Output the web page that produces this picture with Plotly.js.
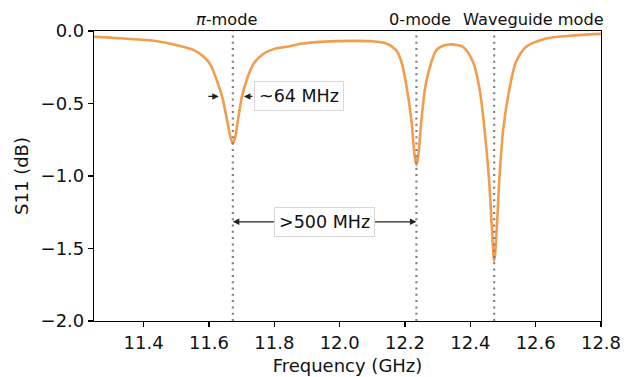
<!DOCTYPE html>
<html>
<head>
<meta charset="utf-8">
<script src="https://cdn.plot.ly/plotly-3.0.1.min.js"></script>
<style>html,body{margin:0;padding:0;background:#fff;}#chart{width:624px;height:377px;}</style>
</head>
<body>
<div id="chart"></div>
<script>
var freqGHz = [11.248, 11.300, 11.340, 11.431, 11.502, 11.554, 11.584, 11.605, 11.625, 11.640, 11.656, 11.666, 11.673,
  11.680, 11.688, 11.701, 11.717, 11.737, 11.768, 11.798, 11.837, 11.887, 11.990, 12.040, 12.092, 12.143, 12.173,
  12.189, 12.204, 12.220, 12.229, 12.235, 12.241, 12.250, 12.263, 12.281, 12.296, 12.315, 12.336, 12.355, 12.377,
  12.408, 12.428, 12.443, 12.457, 12.466, 12.473, 12.481, 12.489, 12.501, 12.520, 12.540, 12.571, 12.632, 12.703, 12.800];
var s11dB = [-0.040, -0.046, -0.052, -0.067, -0.098, -0.132, -0.178, -0.235, -0.348, -0.451, -0.623, -0.735, -0.775,
  -0.735, -0.623, -0.451, -0.327, -0.224, -0.155, -0.125, -0.109, -0.086, -0.070, -0.068, -0.070, -0.086, -0.132,
  -0.212, -0.373, -0.623, -0.850, -0.925, -0.850, -0.623, -0.373, -0.212, -0.132, -0.103, -0.093, -0.095, -0.109,
  -0.212, -0.396, -0.671, -1.015, -1.360, -1.585, -1.360, -1.015, -0.671, -0.396, -0.212, -0.109, -0.052, -0.033, -0.020];

// Mode markers
var modeNames = ['<i>π</i>-mode', '0-mode', 'Waveguide mode'];
var modeFreqs = [11.673, 12.235, 12.473];
var modeLabelX = [11.654, 12.245, 12.593];

// Annotation values
var fwhmLabel = '~64 MHz';
var fwhmEdges = [11.630, 11.707];
var fwhmLevel = -0.451;
var fwhmLabelX = 11.875;
var sepLabel = '&gt;500 MHz';
var sepLevel = -1.316;

var font = 'DejaVu Sans, Verdana, sans-serif';
var orange = '#f39c4c';

var shapes = modeFreqs.map(function (f) {
  return {type: 'line', xref: 'x', yref: 'paper', x0: f, x1: f, y0: 0, y1: 1, layer: 'above',
    line: {color: '#808080', width: 2.2, dash: '2px,4.3px'}};
});

var annotations = [];
modeNames.forEach(function (n, i) {
  annotations.push({text: n, xref: 'x', yref: 'paper', x: modeLabelX[i], y: 1, yanchor: 'bottom', xanchor: 'center',
    yshift: 0, showarrow: false, font: {family: font, size: 16.2, color: '#111'}});
});
// FWHM arrows
annotations.push({text: '', x: fwhmEdges[0], y: fwhmLevel, ax: -12, ay: 0, showarrow: true,
  arrowhead: 2, arrowsize: 1, arrowwidth: 1.3, arrowcolor: '#222'});
annotations.push({text: '', x: fwhmEdges[1], y: fwhmLevel, ax: 10, ay: 0, showarrow: true,
  arrowhead: 2, arrowsize: 1, arrowwidth: 1.3, arrowcolor: '#222'});
annotations.push({text: fwhmLabel, x: fwhmLabelX, y: fwhmLevel, showarrow: false, xanchor: 'center',
  font: {family: font, size: 17.5, color: '#111'}, bgcolor: '#fff', bordercolor: '#d8d8d8', borderwidth: 1, borderpad: 4});
// Separation arrows
var sepMid = (modeFreqs[0] + modeFreqs[1]) / 2;
annotations.push({text: '', x: modeFreqs[0], y: sepLevel, axref: 'x', ayref: 'y', ax: sepMid, ay: sepLevel,
  showarrow: true, arrowhead: 2, arrowsize: 1, arrowwidth: 1.3, arrowcolor: '#222', standoff: 0});
annotations.push({text: '', x: modeFreqs[1], y: sepLevel, axref: 'x', ayref: 'y', ax: sepMid, ay: sepLevel,
  showarrow: true, arrowhead: 2, arrowsize: 1, arrowwidth: 1.3, arrowcolor: '#222', standoff: 0});
annotations.push({text: sepLabel, x: sepMid, y: sepLevel, showarrow: false, xanchor: 'center',
  font: {family: font, size: 17.5, color: '#111'}, bgcolor: '#fff', bordercolor: '#d8d8d8', borderwidth: 1, borderpad: 4});

var trace = {x: freqGHz, y: s11dB, type: 'scatter', mode: 'lines',
  line: {color: orange, width: 2.6, shape: 'spline', smoothing: 0.9}, hoverinfo: 'skip'};

var axisCommon = {showgrid: false, zeroline: false, showline: true, mirror: true, linecolor: '#000', linewidth: 1.1,
  ticks: 'outside', ticklen: 5, tickwidth: 1.1, tickcolor: '#000',
  tickfont: {family: font, size: 18, color: '#111'}};

var layout = {
  width: 624, height: 377,
  margin: {l: 94, r: 23, t: 30.5, b: 56},
  paper_bgcolor: '#fff', plot_bgcolor: '#fff',
  showlegend: false,
  font: {family: font},
  xaxis: Object.assign({}, axisCommon, {range: [11.248, 12.8], tickvals: [11.4, 11.6, 11.8, 12.0, 12.2, 12.4, 12.6, 12.8],
    ticktext: ['11.4', '11.6', '11.8', '12.0', '12.2', '12.4', '12.6', '12.8'],
    title: {text: 'Frequency (GHz)', font: {family: font, size: 18, color: '#111'}, standoff: 7}}),
  yaxis: Object.assign({}, axisCommon, {range: [-2.0, 0.0], tickvals: [0, -0.5, -1.0, -1.5, -2.0],
    ticktext: ['0.0', '\u22120.5', '\u22121.0', '\u22121.5', '\u22122.0'],
    title: {text: 'S11 (dB)', font: {family: font, size: 18, color: '#111'}, standoff: 7}}),
  shapes: shapes,
  annotations: annotations
};

Plotly.newPlot('chart', [trace], layout, {staticPlot: true, displayModeBar: false});
</script>
</body>
</html>
